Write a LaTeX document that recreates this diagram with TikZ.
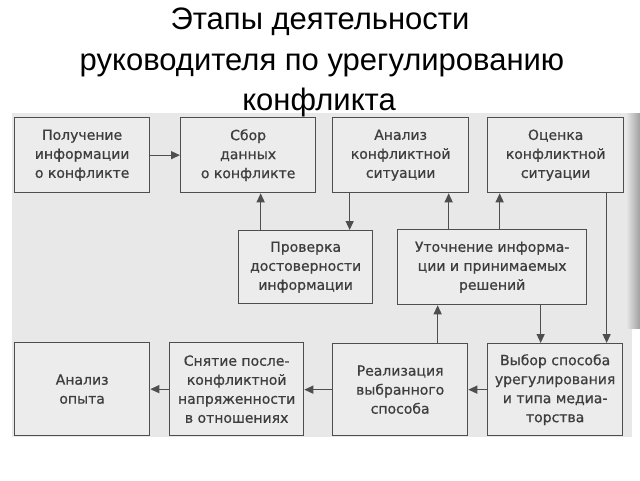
\documentclass[tikz,border=0pt]{standalone}
\usepackage{fontspec}
\setmainfont{Liberation Sans}
\newfontfamily\boxfont[BoldFont={DejaVu Sans}, BoldFeatures={FakeBold=0.7}]{DejaVu Sans}
\usetikzlibrary{arrows.meta}
\definecolor{scanbg}{RGB}{232,232,232}
\definecolor{boxbg}{RGB}{236,236,236}
\definecolor{ink}{RGB}{78,78,78}
\definecolor{txt}{RGB}{62,62,62}
\begin{document}
\begin{tikzpicture}[x=1pt,y=-1pt,
  stagebox/.style={draw=ink, line width=1.3pt, fill=boxbg, anchor=north west,
    inner sep=0pt, align=center, text=txt,
    font=\boxfont\bfseries\fontsize{14}{19}\selectfont},
  arr/.style={draw=ink, line width=1.3pt, -{Triangle[length=9pt,width=8pt]}},
  ttl/.style={anchor=base, font=\fontsize{31}{37}\selectfont, text=black, inner sep=0pt}]
\useasboundingbox (0,0) rectangle (640,480);
\fill[white] (0,0) rectangle (640,480);
\fill[scanbg] (12,113) rectangle (632,437);
\shade[left color=scanbg, right color=gray!75] (626,113) rectangle (640,328);

\node[ttl] (t1) at (320,29) {Этапы деятельности};
\node[ttl] (t2) at (322,70) {руководителя по урегулированию};
\node[ttl] (t3) at (319,110) {конфликта};

\node[stagebox, minimum width=135pt, minimum height=75pt] (b1) at (14,117) {Получение\\информации\\о конфликте};
\node[stagebox, minimum width=135pt, minimum height=75pt] (b2) at (180,117) {Сбор\\данных\\о конфликте};
\node[stagebox, minimum width=136pt, minimum height=75pt] (b3) at (332,117) {Анализ\\конфликтной\\ситуации};
\node[stagebox, minimum width=136pt, minimum height=75pt] (b4) at (487,117) {Оценка\\конфликтной\\ситуации};
\node[stagebox, minimum width=134pt, minimum height=73pt] (b5) at (238,230) {Проверка\\достоверности\\информации};
\node[stagebox, minimum width=189pt, minimum height=75pt] (b6) at (397,229) {Уточнение информа-\\ции и принимаемых\\решений};
\node[stagebox, minimum width=135pt, minimum height=93pt] (b7) at (14,342) {Анализ\\опыта};
\node[stagebox, minimum width=134pt, minimum height=93pt] (b8) at (169,342) {Снятие после-\\конфликтной\\напряженности\\в отношениях};
\node[stagebox, minimum width=135pt, minimum height=92pt] (b9) at (332,343) {Реализация\\выбранного\\способа};
\node[stagebox, minimum width=135pt, minimum height=92pt] (b10) at (487,343) {Выбор способа\\урегулирования\\и типа медиа-\\торства};

\draw[arr] (b1.east) -- (b2.west);
\draw[arr] ([xshift=-45pt]b5.north) -- ([xshift=-45pt]b5.north |- b2.south);
\draw[arr] ([xshift=-51pt]b3.south) -- ([xshift=-51pt]b3.south |- b5.north);
\draw[arr] ([xshift=-43.5pt]b6.north) -- ([xshift=-43.5pt]b6.north |- b3.south);
\draw[arr] ([xshift=7.5pt]b6.north) -- ([xshift=7.5pt]b6.north |- b4.south);
\draw[arr] ([xshift=48.5pt]b6.south) -- ([xshift=48.5pt]b6.south |- b10.north);
\draw[arr] ([xshift=51pt]b4.south) -- ([xshift=51pt]b4.south |- b10.north);
\draw[arr] ([xshift=37.5pt]b9.north) -- ([xshift=37.5pt]b9.north |- b6.south);
\draw[arr] (b10.west) -- (b9.east);
\draw[arr] (b9.west) -- (b9.west -| b8.east);
\draw[arr] (b8.west) -- (b8.west -| b7.east);
\end{tikzpicture}
\end{document}
